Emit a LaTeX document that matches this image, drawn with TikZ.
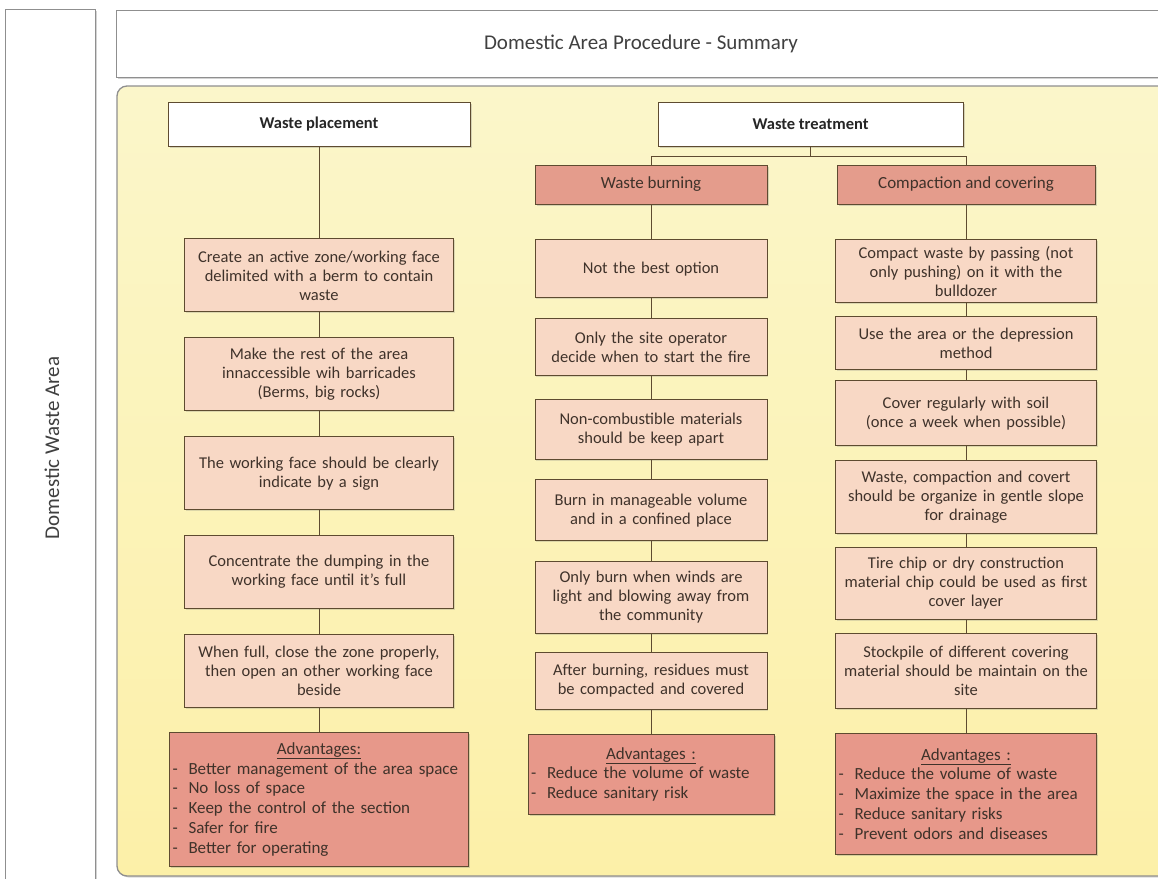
\documentclass[tikz,border=0pt]{standalone}
\usepackage{fontspec}
\setmainfont{Carlito}
\usepackage{xcolor}
\usetikzlibrary{positioning,shadows}
\definecolor{Ink}{HTML}{3F322A}
\definecolor{Frame}{HTML}{8F8F8F}
\definecolor{Edge}{HTML}{5E4B30}
\definecolor{Peach}{HTML}{F8D8C5}
\definecolor{Salmon}{HTML}{E49C8C}
\definecolor{Rose}{HTML}{E7988A}
\definecolor{PanelTop}{HTML}{FBF6CA}
\definecolor{PanelBot}{HTML}{FCF0A8}
\newcommand{\adv}[1]{\makebox[16pt][l]{-}#1}

\begin{document}
\begin{tikzpicture}[x=1pt,y=-1pt,
  node distance=25pt,
  frame/.style={draw=Frame,line width=1.3pt,fill=white,
    drop shadow={opacity=0.35,shadow xshift=1.5pt,shadow yshift=-1.5pt}},
  head/.style={draw=Edge,line width=0.9pt,fill=white,inner sep=0pt,
    minimum height=44pt,font=\bfseries\fontsize{16.5}{19}\selectfont,text=black!85,
    drop shadow={opacity=0.3,shadow xshift=1.5pt,shadow yshift=-1.5pt}},
  topic/.style={draw=Edge,line width=0.9pt,fill=Salmon,inner sep=0pt,
    minimum height=39pt,font=\fontsize{17}{19}\selectfont,text=Ink,
    drop shadow={opacity=0.3,shadow xshift=1.5pt,shadow yshift=-1.5pt}},
  stepbox/.style={draw=Edge,line width=0.9pt,fill=Peach,align=center,
    inner xsep=3pt,inner ysep=2pt,text width=#1,
    font=\fontsize{16.5}{19}\selectfont,text=Ink,
    drop shadow={opacity=0.25,shadow xshift=1.2pt,shadow yshift=-1.2pt}},
  advbox/.style={draw=Edge,line width=0.9pt,fill=Rose,
    inner xsep=3pt,inner ysep=2pt,text width=#1,
    font=\fontsize{17}{19.8}\selectfont,text=Ink,
    drop shadow={opacity=0.3,shadow xshift=1.5pt,shadow yshift=-1.5pt}},
  link/.style={draw=Edge,line width=1pt}]
\useasboundingbox (0,0) rectangle (1158,878);
\clip (0,0) rectangle (1158,878);

\node[frame,minimum width=90pt,minimum height=900pt,anchor=north west] (area) at (5,9) {};
\node[rotate=90,font=\fontsize{21}{25}\selectfont,text=black!75] (arealabel) at (52,448) {Domestic Waste Area};
\node[frame,minimum width=1060pt,minimum height=67pt,anchor=north west] (title) at (116,10) {};
\node[font=\fontsize{21}{25}\selectfont,text=black!75] (titletext) at (641,44) {Domestic Area Procedure - Summary};
\shadedraw[top color=PanelTop,bottom color=PanelBot,draw=Frame,line width=1.3pt,rounded corners=10pt,
  drop shadow={opacity=0.3,shadow xshift=1.5pt,shadow yshift=-1.5pt}]
  (117,86) rectangle (1180,876);

\node[head,minimum width=302pt] (place) at (319,124) {Waste placement};
\node[head,minimum width=305pt] (treat) at (810.5,124) {Waste treatment};
\node[topic,minimum width=232pt] (burn) at (651,184.5) {Waste burning};
\node[topic,minimum width=258pt] (cover) at (966,184.5) {Compaction and covering};

\node[stepbox=263pt,minimum height=73pt,below=92pt of place] (p1) {Create an active zone/working face\\delimited with a berm to contain\\waste};
\node[stepbox=263pt,minimum height=73pt,below=of p1] (p2) {Make the rest of the area\\innaccessible wih barricades\\(Berms, big rocks)};
\node[stepbox=263pt,minimum height=73pt,below=of p2] (p3) {The working face should be clearly\\indicate by a sign};
\node[stepbox=263pt,minimum height=73pt,below=of p3] (p4) {Concentrate the dumping in the\\working face until it's full};
\node[stepbox=263pt,minimum height=73pt,below=of p4] (p5) {When full, close the zone properly,\\then open an other working face\\beside};
\node[advbox=293pt,minimum height=134pt,below=24pt of p5] (padv) {{\centering\underline{Advantages:}\par}\raggedright
  \adv{Better management of the area space}\\\adv{No loss of space}\\\adv{Keep the control of the section}\\\adv{Safer for fire}\\\adv{Better for operating}};

\node[stepbox=226pt,minimum height=58pt,below=35pt of burn] (b1) {Not the best option};
\node[stepbox=226pt,minimum height=57pt,below=20pt of b1] (b2) {Only the site operator\\decide when to start the fire};
\node[stepbox=226pt,minimum height=60pt,below=23pt of b2] (b3) {Non-combustible materials\\should be keep apart};
\node[stepbox=226pt,minimum height=61pt,below=19pt of b3] (b4) {Burn in manageable volume\\and in a confined place};
\node[stepbox=226pt,minimum height=72pt,below=20pt of b4] (b5) {Only burn when winds are\\light and blowing away from\\the community};
\node[stepbox=226pt,minimum height=57pt,below=18pt of b5] (b6) {After burning, residues must\\be compacted and covered};
\node[advbox=240pt,minimum height=80pt,below=24pt of b6] (badv) {{\centering\underline{Advantages :}\par}\raggedright
  \adv{Reduce the volume of waste}\\\adv{Reduce sanitary risk}};

\node[stepbox=255pt,minimum height=63pt,below=35pt of cover] (c1) {Compact waste by passing (not\\only pushing) on it with the\\bulldozer};
\node[stepbox=255pt,minimum height=53pt,below=13pt of c1] (c2) {Use the area or the depression\\method};
\node[stepbox=255pt,minimum height=65pt,below=10pt of c2] (c3) {Cover regularly with soil\\(once a week when possible)};
\node[stepbox=255pt,minimum height=73pt,below=14pt of c3] (c4) {Waste, compaction and covert\\should be organize in gentle slope\\for drainage};
\node[stepbox=255pt,minimum height=72pt,below=13pt of c4] (c5) {Tire chip or dry construction\\material chip could be used as first\\cover layer};
\node[stepbox=255pt,minimum height=75pt,below=13pt of c5] (c6) {Stockpile of different covering\\material should be maintain on the\\site};
\node[advbox=255pt,minimum height=121pt,below=24pt of c6] (cadv) {{\centering\underline{Advantages :}\par}\raggedright
  \adv{Reduce the volume of waste}\\\adv{Maximize the space in the area}\\\adv{Reduce sanitary risks}\\\adv{Prevent odors and diseases}};

\foreach \a/\b in {place/p1,p1/p2,p2/p3,p3/p4,p4/p5,p5/padv,
    burn/b1,b1/b2,b2/b3,b3/b4,b4/b5,b5/b6,b6/badv,
    cover/c1,c1/c2,c2/c3,c3/c4,c4/c5,c5/c6,c6/cadv}
  \draw[link] (\a) -- (\b);
\draw[link] (treat.south) -- ++(0,10) -| (burn.north);
\draw[link] (treat.south) -- ++(0,10) -| (cover.north);
\end{tikzpicture}
\end{document}
